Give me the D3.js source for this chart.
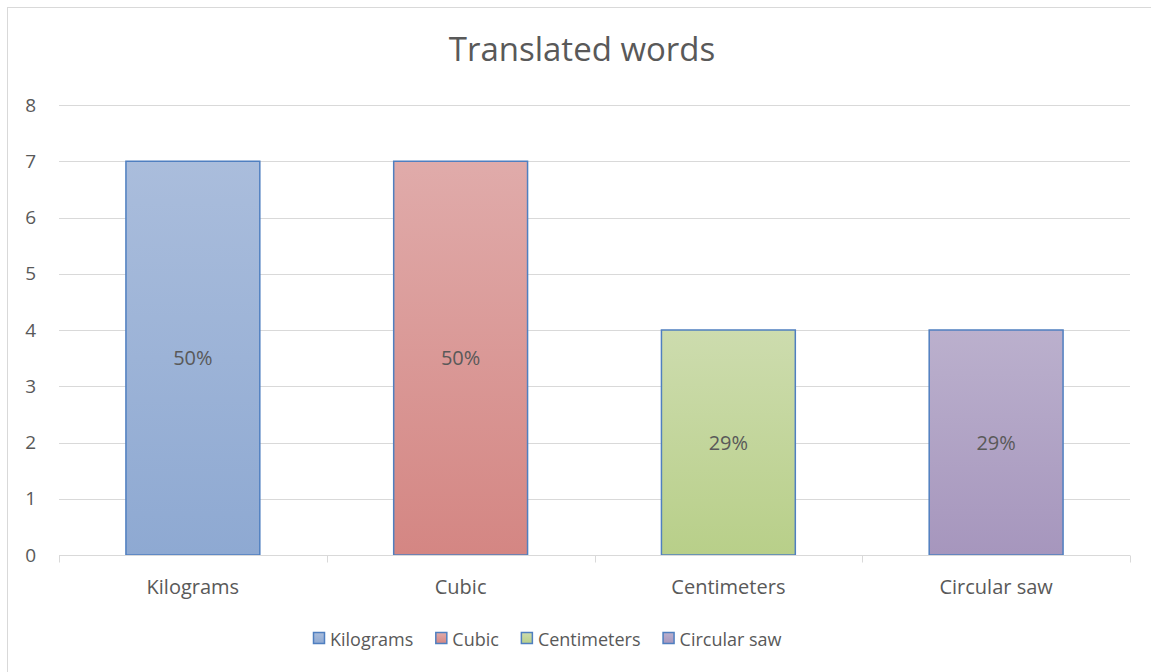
<!DOCTYPE html>
<html>
<head>
<meta charset="utf-8">
<script src="https://cdn.jsdelivr.net/npm/d3@7"></script>
<style>
  html, body { margin: 0; padding: 0; background: #fff; }
  svg { display: block; }
  text { font-family: "Open Sans", Lato, sans-serif; fill: #595959; }
</style>
</head>
<body>
<svg id="chart" width="1151" height="672"></svg>
<script>
// Chart data
const categories = ["Kilograms", "Cubic", "Centimeters", "Circular saw"];
const values = [7, 7, 4, 4];
const valueLabels = ["50%", "50%", "29%", "29%"];
const yTicks = [0, 1, 2, 3, 4, 5, 6, 7, 8];
const title = "Translated words";

// Fill gradients per category (top colour, bottom colour)
const fillTop = ["#aabddc", "#e0abaa", "#cddcae", "#bbb0cd"];
const fillBottom = ["#8ea9d2", "#d48683", "#b8cf89", "#a696bd"];
const barStroke = "#4f7fc0";

const svg = d3.select("#chart");
const W = 1151, H = 672;

// Chart frame
svg.append("rect")
  .attr("x", 7.5).attr("y", 7.5)
  .attr("width", W + 10).attr("height", H + 10)
  .attr("fill", "#fff").attr("stroke", "#d9d9d9").attr("stroke-width", 1);

const margin = { left: 59, right: 1130, top: 105, bottom: 555 };

const x = d3.scaleBand()
  .domain(categories)
  .range([margin.left, margin.right])
  .paddingInner(0.5)
  .paddingOuter(0.25);

const y = d3.scaleLinear()
  .domain([0, 8])
  .range([margin.bottom, margin.top]);

// Gradients
const defs = svg.append("defs");
categories.forEach((c, i) => {
  const g = defs.append("linearGradient")
    .attr("id", "grad" + i)
    .attr("x1", 0).attr("y1", 0).attr("x2", 0).attr("y2", 1);
  g.append("stop").attr("offset", "0%").attr("stop-color", fillTop[i]);
  g.append("stop").attr("offset", "100%").attr("stop-color", fillBottom[i]);
});

// Gridlines
svg.append("g")
  .selectAll("line")
  .data(yTicks.filter(d => d > 0))
  .join("line")
  .attr("x1", margin.left).attr("x2", margin.right)
  .attr("y1", d => Math.round(y(d)) + 0.5).attr("y2", d => Math.round(y(d)) + 0.5)
  .attr("stroke", "#d9d9d9").attr("stroke-width", 1);

// Y axis labels
const yAxis = d3.axisLeft(y).tickValues(yTicks).tickSize(0).tickPadding(0).tickFormat(d3.format("d"));
const yg = svg.append("g").attr("transform", `translate(36,0)`).call(yAxis);
yg.select(".domain").remove();
yg.selectAll("text")
  .attr("font-size", 19)
  .attr("fill", "#595959")
  .style("font-family", '"Open Sans", Lato, sans-serif');

// Bars
svg.append("g")
  .selectAll("rect")
  .data(categories)
  .join("rect")
  .attr("x", d => x(d))
  .attr("y", (d, i) => y(values[i]))
  .attr("width", x.bandwidth())
  .attr("height", (d, i) => y(0) - y(values[i]))
  .attr("fill", (d, i) => `url(#grad${i})`)
  .attr("stroke", barStroke)
  .attr("stroke-width", 1.5);

// Category axis with boundary ticks
const baseY = Math.round(y(0)) + 0.5;
svg.append("line")
  .attr("x1", margin.left).attr("x2", margin.right)
  .attr("y1", baseY).attr("y2", baseY)
  .attr("stroke", "#d9d9d9").attr("stroke-width", 1);
const bounds = d3.range(categories.length + 1).map(i => margin.left + i * (margin.right - margin.left) / categories.length);
svg.append("g")
  .selectAll("line")
  .data(bounds)
  .join("line")
  .attr("x1", d => Math.round(d) + 0.5).attr("x2", d => Math.round(d) + 0.5)
  .attr("y1", baseY).attr("y2", baseY + 7)
  .attr("stroke", "#d9d9d9").attr("stroke-width", 1);

svg.append("g")
  .selectAll("text")
  .data(categories)
  .join("text")
  .attr("x", d => x(d) + x.bandwidth() / 2)
  .attr("y", 594)
  .attr("text-anchor", "middle")
  .attr("font-size", 20)
  .text(d => d);

// Value labels
svg.append("g")
  .selectAll("text")
  .data(categories)
  .join("text")
  .attr("x", d => x(d) + x.bandwidth() / 2)
  .attr("y", (d, i) => y(values[i] / 2) + 7)
  .attr("text-anchor", "middle")
  .attr("font-size", 20)
  .attr("fill", "#404040")
  .text((d, i) => valueLabels[i]);

// Title
svg.append("text")
  .attr("x", 582).attr("y", 61)
  .attr("text-anchor", "middle")
  .attr("font-size", 33)
  .text(title);

// Legend
const legend = svg.append("g");
let lx = 313;
categories.forEach((c, i) => {
  const item = legend.append("g");
  item.append("rect")
    .attr("x", lx + 0.5).attr("y", 632.5)
    .attr("width", 11).attr("height", 11)
    .attr("fill", `url(#grad${i})`)
    .attr("stroke", barStroke).attr("stroke-width", 1.5);
  const t = item.append("text")
    .attr("x", lx + 17).attr("y", 646)
    .attr("font-size", 18)
    .text(c);
  lx += 17 + t.node().getComputedTextLength() + 22;
});
</script>
</body>
</html>
